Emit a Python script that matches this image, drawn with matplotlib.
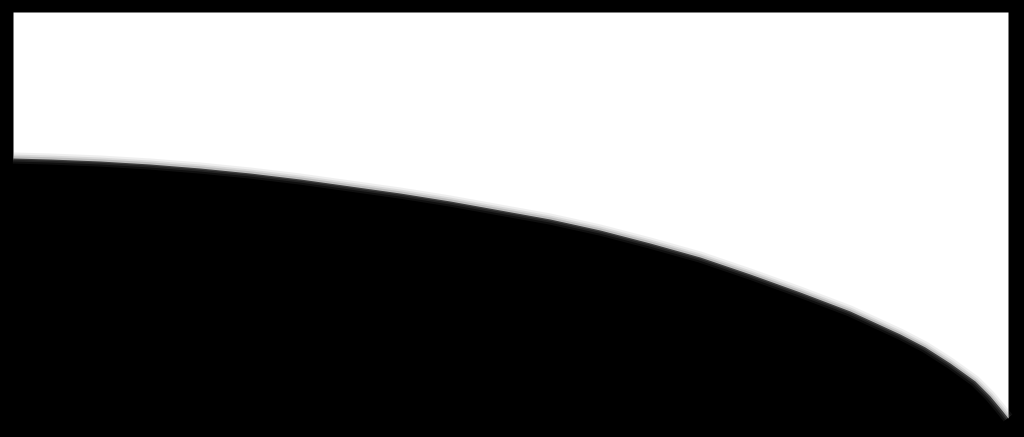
import matplotlib
matplotlib.use("Agg")
import matplotlib.pyplot as plt
import numpy as np

# lower edge of the white area (pixel coords, y down)
curve_x = [13, 50, 100, 150, 200, 250, 300, 350, 400, 450, 500, 550, 600,
           650, 700, 750, 800, 850, 900, 925, 950, 975, 990, 1000, 1008]
curve_y = [158, 159, 161, 164, 168, 173, 179, 186, 193, 201, 210, 219, 230,
           243, 257, 274, 292, 311, 334, 347, 363, 381, 396, 408, 418]
top_y = 12

fig = plt.figure(figsize=(10.24, 4.37), dpi=100)
ax = fig.add_axes([0, 0, 1, 1])
ax.set_facecolor("black")
ax.set_xlim(0, 1024)
ax.set_ylim(437, 0)
ax.axis("off")
fig.patch.set_facecolor("black")

x = np.array(curve_x)
y = np.array(curve_y)
ax.fill_between(x, top_y, y, color="white", lw=0)

# soft edge like the blurred reference
for w, a in [(8, 0.12), (5, 0.18), (2.5, 0.3)]:
    ax.plot(x, y, color="gray", lw=w, alpha=a,
            solid_joinstyle="round", solid_capstyle="butt")

fig.savefig("out.png", dpi=100, facecolor="black")
